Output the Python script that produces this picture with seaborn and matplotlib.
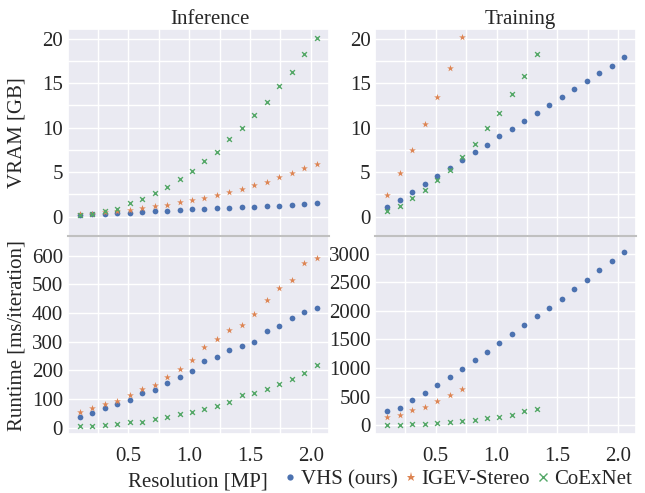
import seaborn as sns
import matplotlib.pyplot as plt
from matplotlib.lines import Line2D
from matplotlib.ticker import MultipleLocator

# resolution in megapixels (x axis)
res = [0.102, 0.205, 0.307, 0.410, 0.512, 0.614, 0.717, 0.819, 0.922, 1.024,
       1.126, 1.229, 1.331, 1.434, 1.536, 1.638, 1.741, 1.843, 1.946, 2.048]

# VRAM [GB], inference
inf_vram_vhs = [0.19, 0.26, 0.33, 0.37, 0.45, 0.52, 0.59, 0.67, 0.74, 0.82,
                0.89, 0.96, 1.00, 1.04, 1.11, 1.15, 1.22, 1.26, 1.41, 1.52]
inf_vram_igev = [0.26, 0.33, 0.52, 0.67, 0.74, 0.93, 1.15, 1.34, 1.63, 1.89,
                 2.15, 2.41, 2.75, 3.08, 3.56, 3.93, 4.45, 4.90, 5.45, 5.97]
inf_vram_coex = [0.22, 0.30, 0.63, 0.89, 1.48, 1.93, 2.67, 3.34, 4.27, 5.12,
                 6.27, 7.31, 8.68, 9.91, 11.47, 12.84, 14.66, 16.22, 18.22, 20.1]

# VRAM [GB], training
tr_vram_vhs = [1.06, 1.89, 2.75, 3.66, 4.57, 5.43, 6.34, 7.21, 8.08, 9.02,
               9.89, 10.79, 11.66, 12.57, 13.43, 14.34, 15.21, 16.11, 16.98, 17.89]
tr_vram_igev = [2.45, 4.87, 7.51, 10.42, 13.47, 16.72, 20.23]
tr_vram_coex = [0.60, 1.17, 2.04, 2.94, 4.08, 5.28, 6.75, 8.19, 9.96, 11.66,
                13.77, 15.77, 18.26]

# runtime [ms/iteration], inference
inf_rt_vhs = [37, 51, 69, 84, 98, 120, 132, 157, 175, 197,
              231, 248, 270, 286, 299, 338, 354, 381, 405, 419]
inf_rt_igev = [54, 68, 83, 93, 114, 136, 150, 175, 206, 237,
               283, 309, 342, 359, 396, 445, 487, 516, 574, 593]
inf_rt_coex = [6, 7, 9, 14, 18, 21, 30, 37, 47, 55,
               66, 77, 91, 113, 120, 133, 152, 168, 190, 217]

# runtime [ms/iteration], training
tr_rt_vhs = [256, 309, 443, 565, 711, 845, 979, 1148, 1287, 1433,
             1602, 1753, 1911, 2056, 2208, 2377, 2546, 2715, 2866, 3029]
tr_rt_igev = [146, 186, 262, 326, 425, 530, 635]
tr_rt_coex = [5, 8, 15, 25, 41, 58, 76, 99, 128, 151, 186, 250, 291]

methods = ["VHS (ours)", "IGEV-Stereo", "CoExNet"]

sns.set_theme(style="darkgrid", palette="deep")
plt.rcParams['font.family'] = ['Liberation Serif', 'DejaVu Serif']
plt.rcParams['font.size'] = 15
plt.rcParams['axes.titlesize'] = 15
plt.rcParams['axes.labelsize'] = 15
plt.rcParams['xtick.labelsize'] = 15
plt.rcParams['ytick.labelsize'] = 15
plt.rcParams['legend.fontsize'] = 15
plt.rcParams['ytick.major.size'] = 0

pal = sns.color_palette("deep")


def draw(ax, vhs, igev, coex):
    sns.scatterplot(x=res[:len(vhs)], y=vhs, ax=ax, color=pal[0], marker="o",
                    s=17, linewidth=0)
    sns.scatterplot(x=res[:len(igev)], y=igev, ax=ax, color=pal[1], marker="*",
                    s=26, linewidth=0)
    sns.scatterplot(x=res[:len(coex)], y=coex, ax=ax, color=pal[2], marker="x",
                    s=12, linewidth=1)


fig, axes = plt.subplots(2, 2, figsize=(6.45, 4.93), dpi=100, sharex=True,
                         gridspec_kw=dict(height_ratios=[207, 198], hspace=0, wspace=0.18))
fig.subplots_adjust(left=0.1054, right=0.986, top=0.9406, bottom=0.1193)

draw(axes[0, 0], inf_vram_vhs, inf_vram_igev, inf_vram_coex)
draw(axes[0, 1], tr_vram_vhs, tr_vram_igev, tr_vram_coex)
draw(axes[1, 0], inf_rt_vhs, inf_rt_igev, inf_rt_coex)
draw(axes[1, 1], tr_rt_vhs, tr_rt_igev, tr_rt_coex)

for ax in axes.flat:
    ax.xaxis.set_major_locator(MultipleLocator(0.5))
    ax.xaxis.set_minor_locator(MultipleLocator(0.25))
    ax.grid(True, which="minor", color="white", linewidth=1)

for ax in axes[0]:
    ax.set_ylim(-2.2, 21.05)
    ax.yaxis.set_major_locator(MultipleLocator(5))
    ax.yaxis.set_minor_locator(MultipleLocator(2.5))

axes[1, 0].set_ylim(-23, 668)
axes[1, 0].yaxis.set_major_locator(MultipleLocator(100))
axes[1, 1].set_ylim(-157, 3303)
axes[1, 1].yaxis.set_major_locator(MultipleLocator(500))

# grey separator between the two rows
for ax in axes[1]:
    ax.spines["top"].set_color("#c0c0c0")
    ax.spines["top"].set_linewidth(1.5)

axes[0, 0].set_title("Inference", x=0.545, pad=3)
axes[0, 1].set_title("Training", x=0.555, pad=3)
axes[0, 0].set_ylabel("VRAM [GB]")
axes[1, 0].set_ylabel("Runtime [ms/iteration]")
fig.align_ylabels(axes[:, 0])

fig.text(268 / 645, 0.0128, "Resolution [MP]", ha="right", va="baseline")
handles = [
    Line2D([], [], linestyle="none", marker="o", markersize=4.5, markeredgewidth=0, color=pal[0]),
    Line2D([], [], linestyle="none", marker="*", markersize=6.5, markeredgewidth=0, color=pal[1]),
    Line2D([], [], linestyle="none", marker="x", markersize=5.5, markeredgewidth=1, color=pal[2]),
]
fig.legend(handles, methods, loc="center left", bbox_to_anchor=(285 / 645, 0.027),
           ncol=3, frameon=False, borderpad=0, borderaxespad=0,
           handlelength=0.5, handletextpad=0.25, columnspacing=0.4)

plt.savefig("out.png", dpi=100)
